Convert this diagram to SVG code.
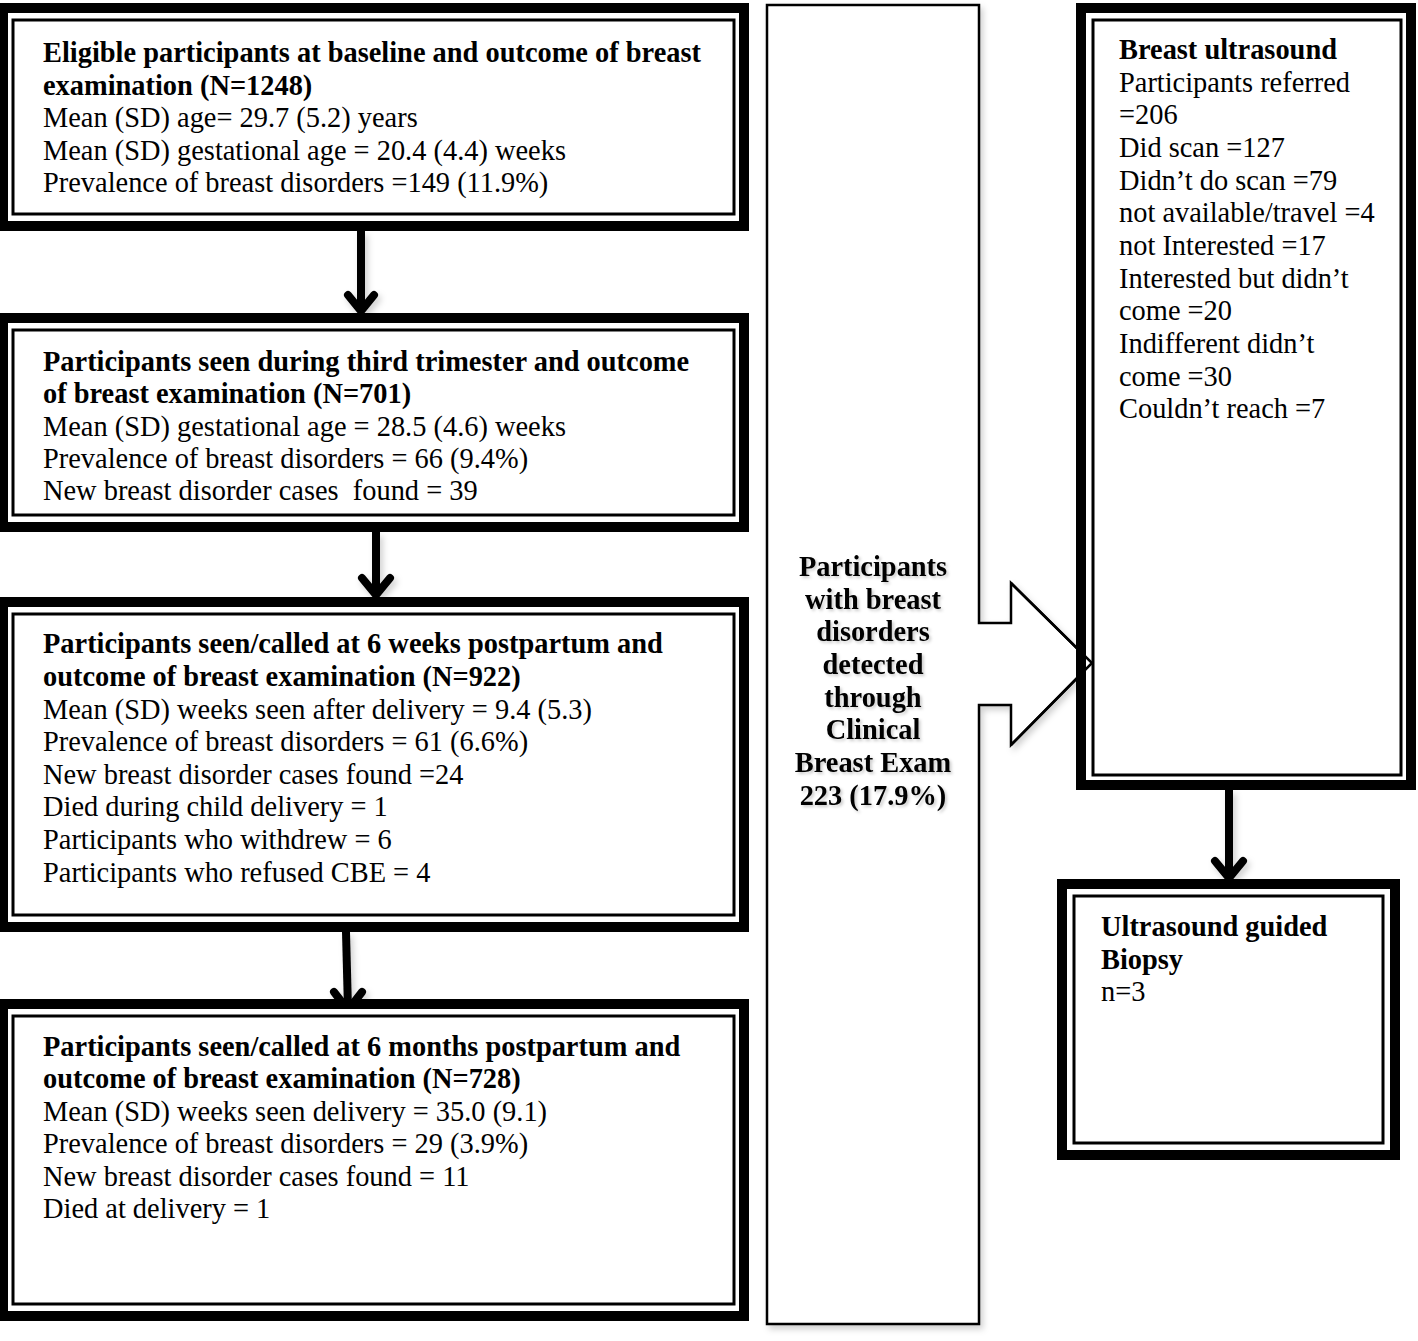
<svg xmlns="http://www.w3.org/2000/svg" width="1418" height="1341" viewBox="0 0 1418 1341">
<style>
.o{fill:#fff;stroke:#000;stroke-width:10}
.i{fill:none;stroke:#000;stroke-width:3}
text{font-family:"Liberation Serif","Times New Roman",serif;font-size:28.4px;fill:#000;white-space:pre}
.b{font-weight:bold}
.m{font-weight:bold;text-anchor:middle}
.ln{fill:none;stroke:#000;stroke-width:8}
.hd{fill:none;stroke:#000;stroke-width:8;stroke-linecap:round;stroke-linejoin:round}
</style>
<defs>
<filter id="sh" x="-10%" y="-10%" width="130%" height="130%">
<feDropShadow dx="3" dy="4" stdDeviation="3" flood-color="#000" flood-opacity="0.18"/>
</filter>
<filter id="ts" x="-10%" y="-10%" width="130%" height="130%">
<feDropShadow dx="2" dy="2" stdDeviation="1.5" flood-color="#000" flood-opacity="0.2"/>
</filter>
</defs>
<rect width="1418" height="1341" fill="#fff"/>

<g id="connectors">
<g filter="url(#sh)">
<line class="ln" x1="361" y1="231" x2="361" y2="309"/>
<polyline class="hd" points="348,295 361,311 374,295"/>
<line class="ln" x1="376" y1="532" x2="376" y2="593"/>
<polyline class="hd" points="362,578 376,595 390,578"/>
<line class="ln" x1="346" y1="932" x2="348" y2="1010"/>
<polyline class="hd" points="334,992 348,1010 362,992"/>
<line class="ln" x1="1229" y1="790" x2="1229" y2="876"/>
<polyline class="hd" points="1215,861 1229,878 1243,861"/>
</g>
</g>

<g id="middle">
<path d="M767,5 H979 V623 H1011 V583 L1092,663 L1011,745 V705 H979 V1324 H767 Z" fill="#fff" stroke="#000" stroke-width="2.5" filter="url(#sh)"/>
<g filter="url(#ts)">
<text class="m" x="873" y="576">Participants</text>
<text class="m" x="873" y="609">with breast</text>
<text class="m" x="873" y="641">disorders</text>
<text class="m" x="873" y="674">detected</text>
<text class="m" x="873" y="707">through</text>
<text class="m" x="873" y="739">Clinical</text>
<text class="m" x="873" y="772">Breast Exam</text>
<text class="m" x="873" y="805">223 (17.9%)</text>
</g>
</g>

<g id="box1">
<rect class="o" x="3" y="8" width="741" height="218"/>
<rect class="i" x="13" y="20" width="721" height="194"/>
<text class="b" x="43" y="62">Eligible participants at baseline and outcome of breast</text>
<text class="b" x="43" y="95">examination (N=1248)</text>
<text x="43" y="127">Mean (SD) age= 29.7 (5.2) years</text>
<text x="43" y="160">Mean (SD) gestational age = 20.4 (4.4) weeks</text>
<text x="43" y="192">Prevalence of breast disorders =149 (11.9%)</text>
</g>

<g id="box2">
<rect class="o" x="3" y="318" width="741" height="209"/>
<rect class="i" x="13" y="330" width="721" height="185"/>
<text class="b" x="43" y="371">Participants seen during third trimester and outcome</text>
<text class="b" x="43" y="403">of breast examination (N=701)</text>
<text x="43" y="436">Mean (SD) gestational age = 28.5 (4.6) weeks</text>
<text x="43" y="468">Prevalence of breast disorders = 66 (9.4%)</text>
<text x="43" y="500">New breast disorder cases  found = 39</text>
</g>

<g id="box3">
<rect class="o" x="3" y="602" width="741" height="325"/>
<rect class="i" x="13" y="614" width="721" height="301"/>
<text class="b" x="43" y="653">Participants seen/called at 6 weeks postpartum and</text>
<text class="b" x="43" y="686">outcome of breast examination (N=922)</text>
<text x="43" y="719">Mean (SD) weeks seen after delivery = 9.4 (5.3)</text>
<text x="43" y="751">Prevalence of breast disorders = 61 (6.6%)</text>
<text x="43" y="784">New breast disorder cases found =24</text>
<text x="43" y="816">Died during child delivery = 1</text>
<text x="43" y="849">Participants who withdrew = 6</text>
<text x="43" y="882">Participants who refused CBE = 4</text>
</g>

<g id="box4">
<rect class="o" x="3" y="1004" width="741" height="312"/>
<rect class="i" x="13" y="1016" width="721" height="288"/>
<text class="b" x="43" y="1056">Participants seen/called at 6 months postpartum and</text>
<text class="b" x="43" y="1088">outcome of breast examination (N=728)</text>
<text x="43" y="1121">Mean (SD) weeks seen delivery = 35.0 (9.1)</text>
<text x="43" y="1153">Prevalence of breast disorders = 29 (3.9%)</text>
<text x="43" y="1186">New breast disorder cases found = 11</text>
<text x="43" y="1218">Died at delivery = 1</text>
</g>

<g id="ultrasound">
<rect class="o" x="1081" y="8" width="330" height="777"/>
<rect class="i" x="1093" y="20" width="308" height="755"/>
<text class="b" x="1119" y="59">Breast ultrasound</text>
<text x="1119" y="92">Participants referred</text>
<text x="1119" y="124">=206</text>
<text x="1119" y="157">Did scan =127</text>
<text x="1119" y="190">Didn’t do scan =79</text>
<text x="1119" y="222">not available/travel =4</text>
<text x="1119" y="255">not Interested =17</text>
<text x="1119" y="288">Interested but didn’t</text>
<text x="1119" y="320">come =20</text>
<text x="1119" y="353">Indifferent didn’t</text>
<text x="1119" y="386">come =30</text>
<text x="1119" y="418">Couldn’t reach =7</text>
</g>

<g id="arrow-tip">
<polyline points="1011,583 1092,663 1011,745" fill="none" stroke="#000" stroke-width="2.5"/>
</g>

<g id="biopsy">
<rect class="o" x="1062" y="884" width="333" height="271"/>
<rect class="i" x="1074" y="896" width="309" height="247"/>
<text class="b" x="1101" y="936">Ultrasound guided</text>
<text class="b" x="1101" y="969">Biopsy</text>
<text x="1101" y="1001">n=3</text>
</g>
</svg>
